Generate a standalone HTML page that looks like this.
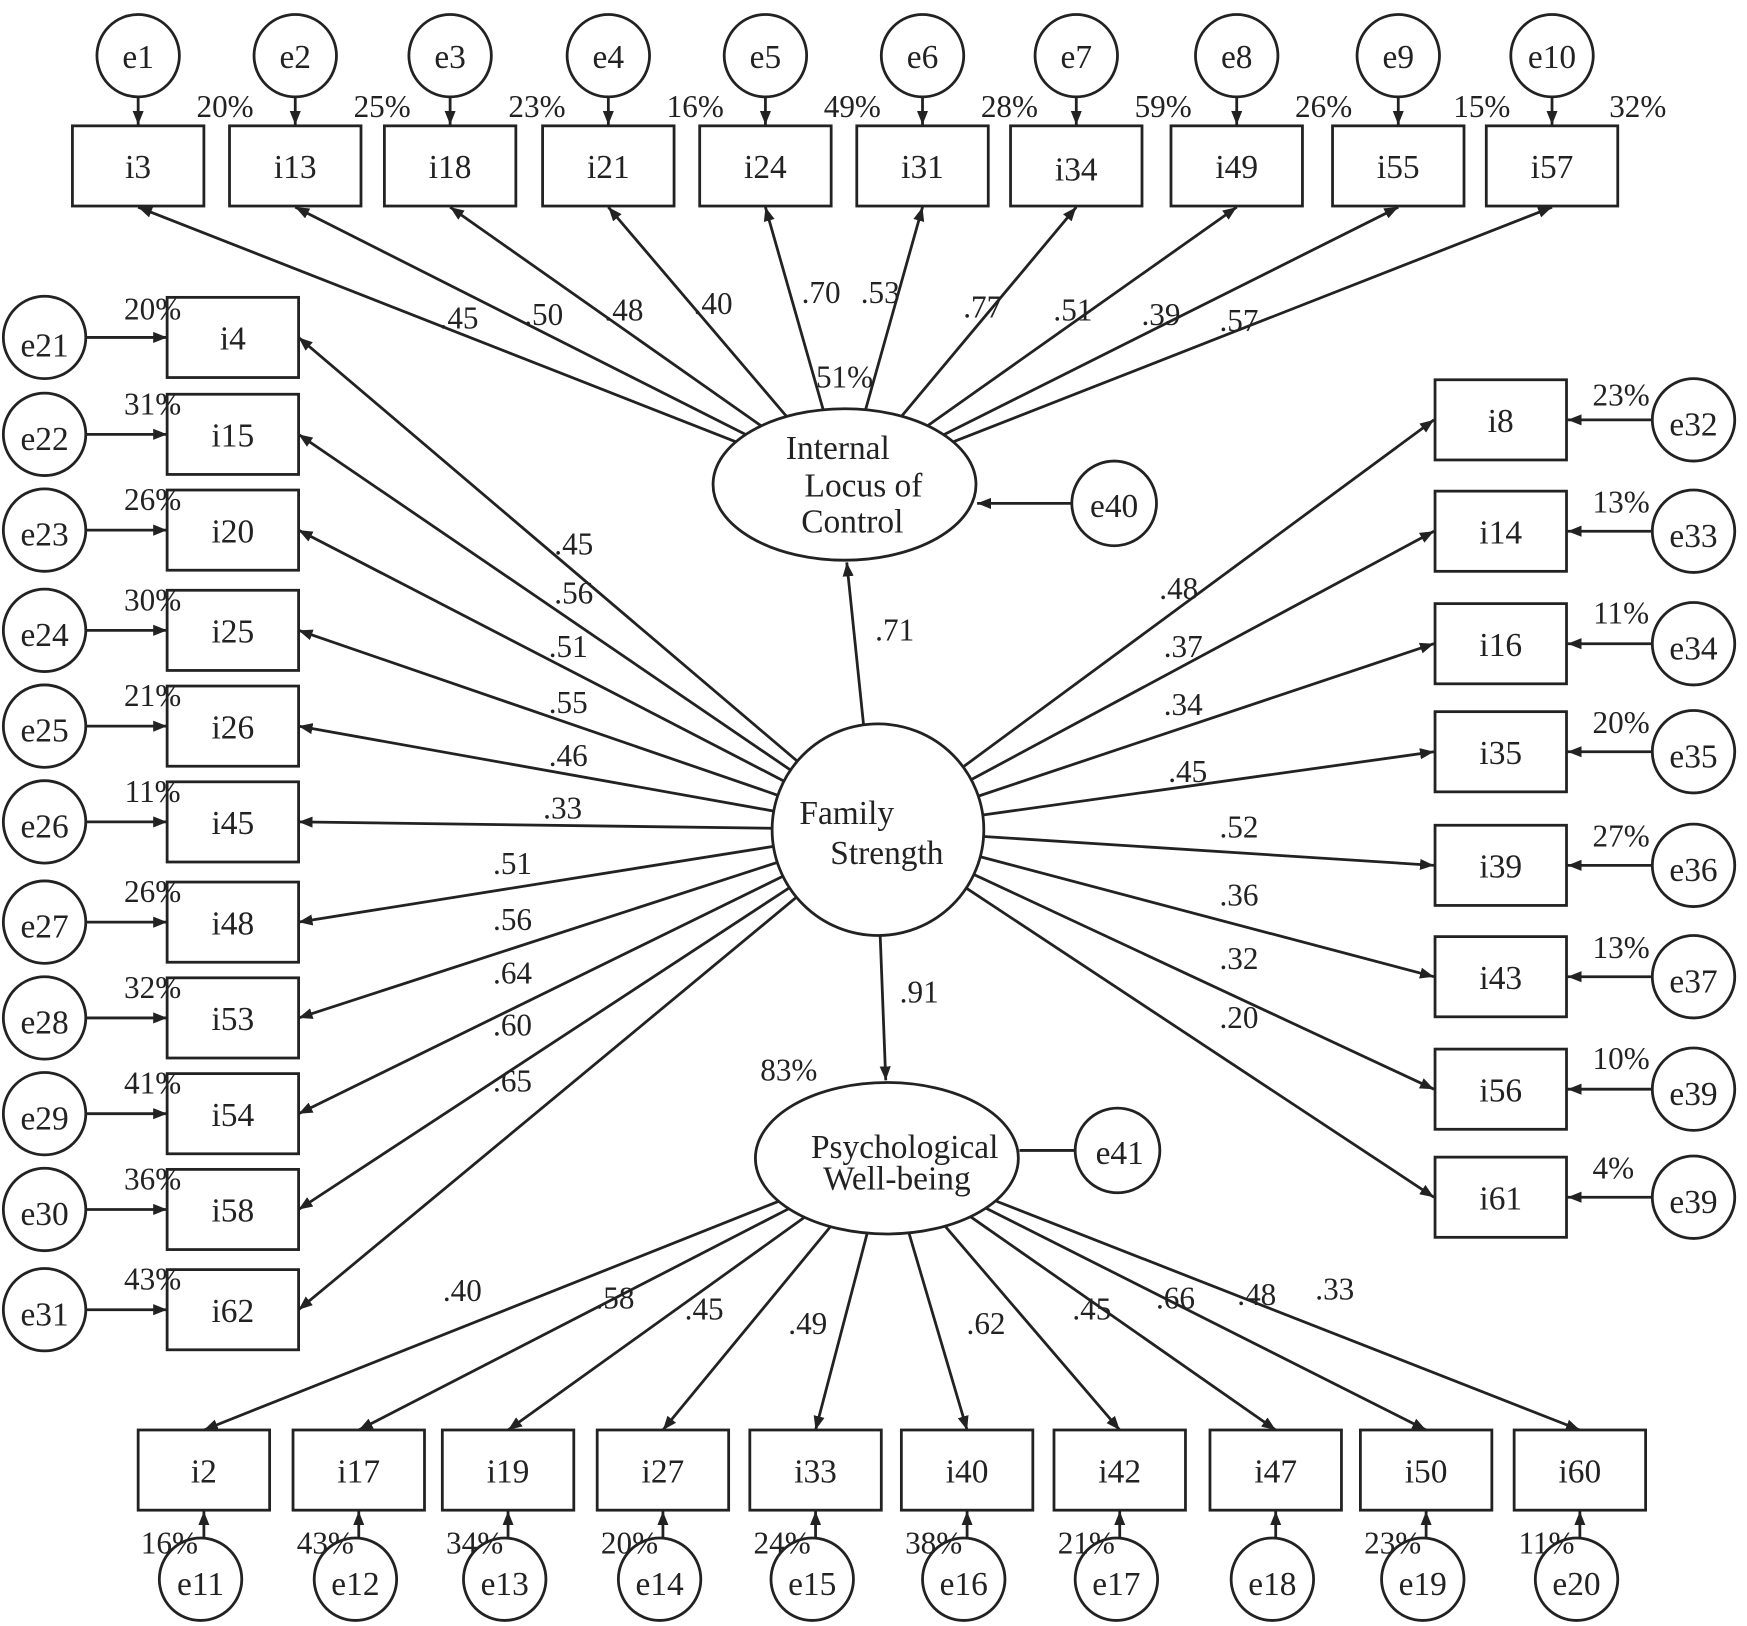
<!DOCTYPE html>
<html><head><meta charset="utf-8"><style>
html,body{margin:0;padding:0;background:#fff;}
svg{display:block;}
text{font-family:"Liberation Serif",serif;fill:#222;}
</style></head><body>
<svg id="s" width="1747" height="1626" viewBox="0 0 1568 1460" preserveAspectRatio="none" xmlns="http://www.w3.org/2000/svg">
<defs><marker id="a" viewBox="0 0 10 10" refX="10" refY="5" markerWidth="5" markerHeight="5" orient="auto"><path d="M0,1 L10,5 L0,9 z" fill="#222"/></marker></defs>
<g id="g" stroke="#222" stroke-width="2.5" fill="none"></g>
<g font-size="30" text-anchor="middle">
<text x="124" y="160">i3</text><text x="265" y="160">i13</text><text x="404" y="160">i18</text><text x="546" y="160">i21</text><text x="687" y="160">i24</text><text x="828" y="160">i31</text><text x="966" y="162">i34</text><text x="1110" y="160">i49</text><text x="1255" y="160">i55</text><text x="1393" y="160">i57</text>
<text x="209" y="314">i4</text><text x="209" y="401">i15</text><text x="209" y="487">i20</text><text x="209" y="577">i25</text><text x="209" y="663">i26</text><text x="209" y="749">i45</text><text x="209" y="839">i48</text><text x="209" y="925">i53</text><text x="209" y="1011">i54</text><text x="209" y="1097">i58</text><text x="209" y="1187">i62</text>
<text x="1347" y="388">i8</text><text x="1347" y="488">i14</text><text x="1347" y="589">i16</text><text x="1347" y="686">i35</text><text x="1347" y="788">i39</text><text x="1347" y="888">i43</text><text x="1347" y="989">i56</text><text x="1347" y="1086">i61</text>
<text x="183" y="1331">i2</text><text x="322" y="1331">i17</text><text x="456" y="1331">i19</text><text x="595" y="1331">i27</text><text x="732" y="1331">i33</text><text x="868" y="1331">i40</text><text x="1005" y="1331">i42</text><text x="1145" y="1331">i47</text><text x="1280" y="1331">i50</text><text x="1418" y="1331">i60</text>
<text x="124" y="61">e1</text><text x="265" y="61">e2</text><text x="404" y="61">e3</text><text x="546" y="61">e4</text><text x="687" y="61">e5</text><text x="828" y="61">e6</text><text x="966" y="61">e7</text><text x="1110" y="61">e8</text><text x="1255" y="61">e9</text><text x="1393" y="61">e10</text>
<text x="40" y="320">e21</text><text x="40" y="404">e22</text><text x="40" y="490">e23</text><text x="40" y="580">e24</text><text x="40" y="666">e25</text><text x="40" y="752">e26</text><text x="40" y="842">e27</text><text x="40" y="928">e28</text><text x="40" y="1014">e29</text><text x="40" y="1100">e30</text><text x="40" y="1190">e31</text>
<text x="1520" y="391">e32</text><text x="1520" y="491">e33</text><text x="1520" y="592">e34</text><text x="1520" y="689">e35</text><text x="1520" y="791">e36</text><text x="1520" y="891">e37</text><text x="1520" y="992">e39</text><text x="1520" y="1089">e39</text>
<text x="180" y="1432">e11</text><text x="319" y="1432">e12</text><text x="453" y="1432">e13</text><text x="592" y="1432">e14</text><text x="729" y="1432">e15</text><text x="865" y="1432">e16</text><text x="1002" y="1432">e17</text><text x="1142" y="1432">e18</text><text x="1277" y="1432">e19</text><text x="1415" y="1432">e20</text>
<text x="1000" y="464">e40</text><text x="1005" y="1045">e41</text>
<text x="752" y="412">Internal</text><text x="775" y="446">Locus  of</text><text x="765" y="478">Control</text>
<text x="760" y="740">Family</text><text x="796" y="776">Strength</text>
<text x="812" y="1040">Psychological</text><text x="805" y="1068">Well-being</text>
</g>
<g font-size="28" text-anchor="middle">
<text x="202" y="105">20%</text><text x="343" y="105">25%</text><text x="482" y="105">23%</text><text x="624" y="105">16%</text><text x="765" y="105">49%</text><text x="906" y="105">28%</text><text x="1044" y="105">59%</text><text x="1188" y="105">26%</text><text x="1330" y="105">15%</text><text x="1470" y="105">32%</text>
<text x="137" y="287">20%</text><text x="137" y="372">31%</text><text x="137" y="458">26%</text><text x="137" y="548">30%</text><text x="137" y="634">21%</text><text x="137" y="720">11%</text><text x="137" y="810">26%</text><text x="137" y="896">32%</text><text x="137" y="982">41%</text><text x="137" y="1068">36%</text><text x="137" y="1158">43%</text>
<text x="1455" y="364">23%</text><text x="1455" y="460">13%</text><text x="1455" y="560">11%</text><text x="1455" y="658">20%</text><text x="1455" y="760">27%</text><text x="1455" y="860">13%</text><text x="1455" y="960">10%</text><text x="1448" y="1058">4%</text>
<text x="152" y="1395">16%</text><text x="292" y="1395">43%</text><text x="426" y="1395">34%</text><text x="565" y="1395">20%</text><text x="702" y="1395">24%</text><text x="838" y="1395">38%</text><text x="975" y="1395">21%</text><text x="1250" y="1395">23%</text><text x="1388" y="1395">11%</text>
<text x="412" y="295">.45</text><text x="488" y="292">.50</text><text x="560" y="288">.48</text><text x="640" y="282">.40</text><text x="737" y="272">.70</text><text x="790" y="272">.53</text><text x="882" y="285">.77</text><text x="963" y="288">.51</text><text x="1042" y="292">.39</text><text x="1112" y="297">.57</text>
<text x="758" y="348">51%</text>
<text x="515" y="498">.45</text><text x="515" y="542">.56</text><text x="510" y="590">.51</text><text x="510" y="640">.55</text><text x="510" y="688">.46</text><text x="505" y="735">.33</text><text x="460" y="785">.51</text><text x="460" y="835">.56</text><text x="460" y="883">.64</text><text x="460" y="930">.60</text><text x="460" y="980">.65</text>
<text x="1058" y="538">.48</text><text x="1062" y="590">.37</text><text x="1062" y="642">.34</text><text x="1066" y="702">.45</text><text x="1112" y="752">.52</text><text x="1112" y="813">.36</text><text x="1112" y="870">.32</text><text x="1112" y="923">.20</text>
<text x="803" y="575">.71</text><text x="825" y="900">.91</text><text x="708" y="970">83%</text>
<text x="415" y="1168">.40</text><text x="552" y="1175">.58</text><text x="632" y="1185">.45</text><text x="725" y="1198">.49</text><text x="885" y="1198">.62</text><text x="980" y="1185">.45</text><text x="1055" y="1175">.66</text><text x="1128" y="1172">.48</text><text x="1198" y="1167">.33</text>
</g>
</svg>
<script>
(function(){
var g=document.getElementById('g'),NS='http://www.w3.org/2000/svg';
function el(t,a){var e=document.createElementNS(NS,t);for(var k in a)e.setAttribute(k,a[k]);g.appendChild(e);return e;}
function ln(x1,y1,x2,y2,ar){var e=el('line',{x1:x1,y1:y1,x2:x2,y2:y2});if(ar!==false)e.setAttribute('marker-end','url(#a)');}
function box(cx,cy){el('rect',{x:cx-59,y:cy-36,width:118,height:72});}
var T=[124,265,404,546,687,828,966,1110,1255,1393];
T.forEach(function(x){box(x,149);el('circle',{cx:x,cy:50,r:37});ln(x,87,x,112);});
var L=[303,390,476,566,652,738,828,914,1000,1086,1176];
L.forEach(function(y){box(209,y);el('circle',{cx:40,cy:y,r:37});ln(77,y,150,y);});
var R=[377,477,578,675,777,877,978,1075];
R.forEach(function(y){box(1347,y);el('circle',{cx:1520,cy:y,r:37});ln(1483,y,1407,y);});
var B=[183,322,456,595,732,868,1005,1145,1280,1418];
B.forEach(function(x){box(x,1320);el('circle',{cx:x-3,cy:1418,r:37});ln(x,1381,x,1357);});
el('ellipse',{cx:758,cy:435,rx:118,ry:68});
el('ellipse',{cx:796,cy:1040,rx:118,ry:68});
el('circle',{cx:788,cy:745,r:95});
el('circle',{cx:1000,cy:452,r:38});ln(962,452,877,452);
el('circle',{cx:1003,cy:1033,r:38});ln(965,1033,915,1033,false);
ln(775,650,760,505);ln(790,840,795,970);
function fromEll(cx,cy,rx,ry,tx,ty){var a=Math.atan2((ty-cy)/ry,(tx-cx)/rx);return [cx+rx*Math.cos(a),cy+ry*Math.sin(a)];}
T.forEach(function(x){var p=fromEll(758,435,118,68,x,186);ln(p[0],p[1],x,186);});
function fromC(tx,ty){var a=Math.atan2(ty-745,tx-788);return [788+95*Math.cos(a),745+95*Math.sin(a)];}
L.forEach(function(y){var p=fromC(268,y);ln(p[0],p[1],268,y);});
R.forEach(function(y){var p=fromC(1287,y);ln(p[0],p[1],1287,y);});
B.forEach(function(x){var p=fromEll(796,1040,118,68,x,1284);ln(p[0],p[1],x,1284);});
})();
</script>
</body></html>
